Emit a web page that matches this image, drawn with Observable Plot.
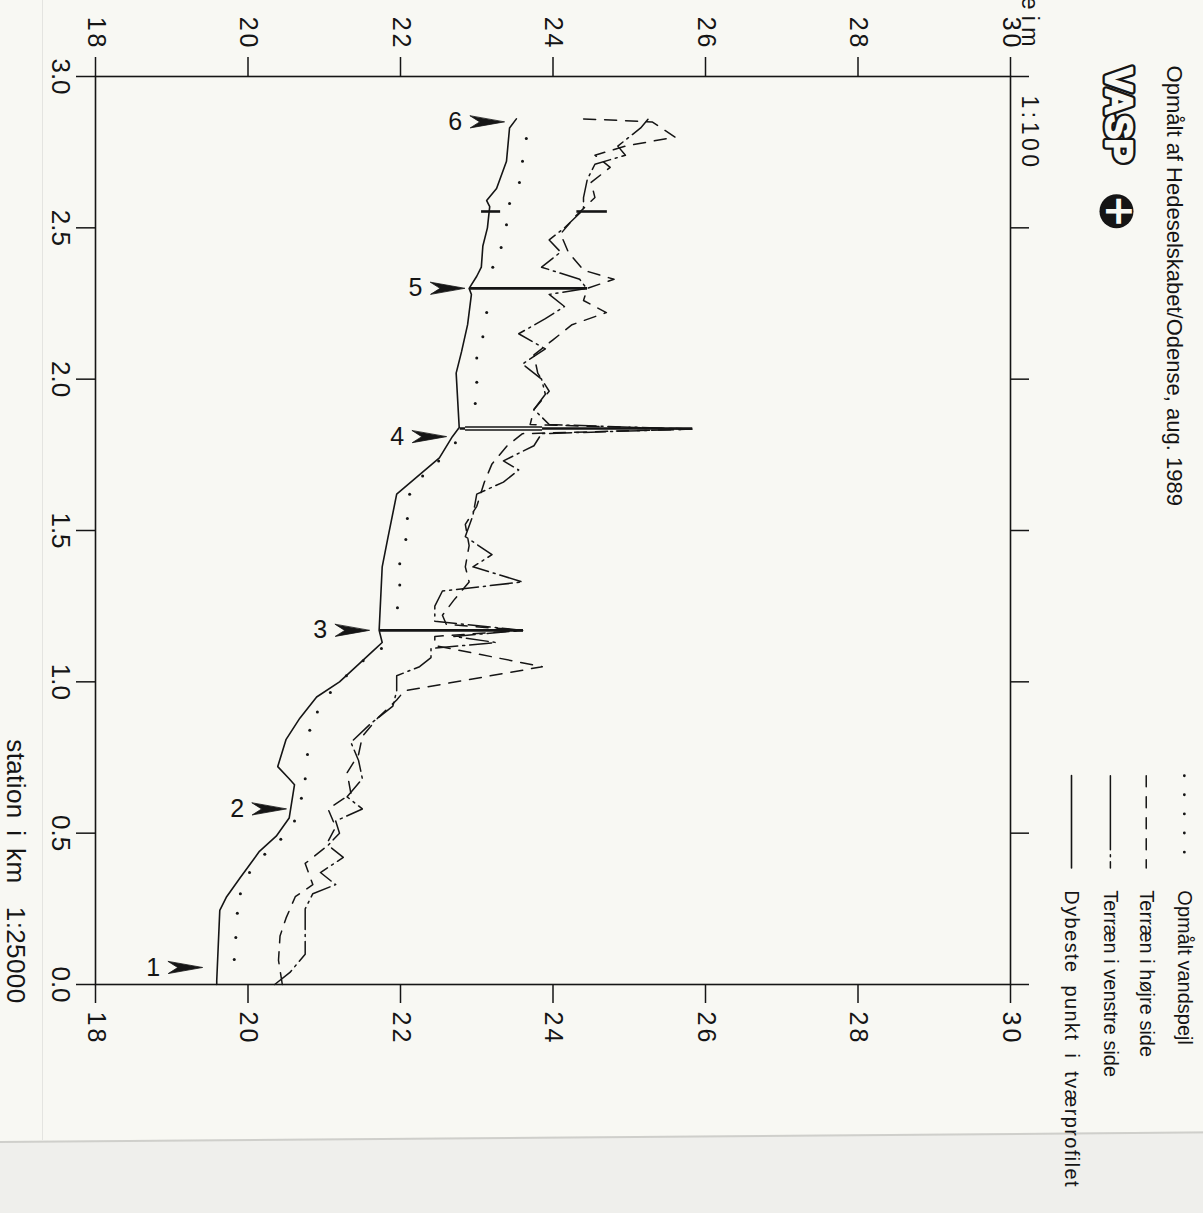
<!DOCTYPE html>
<html>
<head>
<meta charset="utf-8">
<script src="https://cdn.jsdelivr.net/npm/d3@7"></script>
<script src="https://cdn.jsdelivr.net/npm/@observablehq/plot@0.6"></script>
<style>
html, body { margin: 0; padding: 0; width: 1203px; height: 1213px; overflow: hidden; background: #f8f8f3; }
#left-edge { position: absolute; left: 42px; top: 0; width: 1px; height: 1140px; background: #e4e4e0; }
#paper-edge { position: absolute; left: -10px; top: 1141px; width: 1230px; height: 90px; background: #efefec; border-top: 2px solid #cfcfcb; transform: rotate(-0.45deg); transform-origin: 0 0; }
#wrap { position: absolute; left: 0; top: 0; width: 1213px; height: 1203px; transform-origin: 0 0; transform: translateX(1203px) rotate(90deg); }
#wrap svg { overflow: visible; }
</style>
</head>
<body>
<div id="left-edge"></div>
<div id="paper-edge"></div>
<div id="wrap"></div>
<script>
// ---------- data (station in km, kote in m) ----------
const xTicks = [0, 0.5, 1.0, 1.5, 2.0, 2.5, 3.0];
const yTicks = [18, 20, 22, 24, 26, 28, 30];

// Dybeste punkt i tværprofilet (solid)
const bundKm   = [0.00, 0.013, 0.245, 0.29, 0.35, 0.44, 0.49, 0.55, 0.66, 0.68, 0.72, 0.81, 0.88, 0.95, 1.00, 1.06, 1.10, 1.13, 1.17, 1.38, 1.47, 1.62, 1.74, 1.81, 1.84, 2.02, 2.09, 2.18, 2.28, 2.30, 2.34, 2.37, 2.44, 2.50, 2.57, 2.59, 2.63, 2.72, 2.83, 2.86];
const bundKote = [19.59, 19.59, 19.63, 19.72, 19.89, 20.15, 20.37, 20.54, 20.61, 20.54, 20.39, 20.50, 20.68, 20.90, 21.20, 21.46, 21.63, 21.76, 21.72, 21.76, 21.83, 21.95, 22.51, 22.68, 22.77, 22.73, 22.80, 22.88, 22.93, 22.90, 23.00, 23.06, 23.08, 23.14, 23.17, 23.13, 23.26, 23.39, 23.43, 23.52];

// Opmålt vandspejl (dotted)
const vandKm   = [0.083, 0.155, 0.235, 0.30, 0.37, 0.43, 0.48, 0.54, 0.615, 0.68, 0.76, 0.84, 0.90, 0.965, 1.02, 1.07, 1.11, 1.245, 1.32, 1.39, 1.47, 1.54, 1.62, 1.68, 1.73, 1.79, 1.92, 1.99, 2.07, 2.14, 2.22, 2.37, 2.435, 2.51, 2.58, 2.65, 2.72, 2.795];
const vandKote = [19.82, 19.84, 19.86, 19.90, 20.02, 20.22, 20.43, 20.61, 20.70, 20.75, 20.78, 20.81, 20.91, 21.08, 21.29, 21.51, 21.75, 21.96, 21.99, 21.99, 22.07, 22.09, 22.12, 22.29, 22.50, 22.72, 22.98, 23.00, 23.00, 23.08, 23.13, 23.21, 23.32, 23.39, 23.43, 23.56, 23.60, 23.65];

// Terræn i højre side (dashed)
const hojreKm   = [0.00, 0.08, 0.16, 0.22, 0.29, 0.33, 0.40, 0.45, 0.52, 0.58, 0.63, 0.70, 0.76, 0.82, 0.88, 0.94, 0.97, 1.05, 1.12, 1.15, 1.17, 1.19, 1.22, 1.27, 1.33, 1.38, 1.45, 1.52, 1.58, 1.66, 1.72, 1.78, 1.82, 1.835, 1.85, 1.90, 1.96, 2.02, 2.08, 2.13, 2.18, 2.22, 2.26, 2.30, 2.33, 2.36, 2.42, 2.48, 2.54, 2.60, 2.65, 2.70, 2.74, 2.77, 2.80, 2.85, 2.86];
const hojreKote = [20.45, 20.40, 20.42, 20.50, 20.62, 20.85, 20.75, 21.00, 21.15, 21.05, 21.35, 21.30, 21.45, 21.50, 21.70, 21.95, 22.05, 23.86, 22.45, 22.45, 23.60, 22.60, 22.55, 22.70, 22.90, 22.85, 22.90, 22.85, 23.00, 23.10, 23.20, 23.40, 23.60, 25.82, 23.70, 23.75, 23.95, 23.80, 23.75, 24.00, 24.25, 24.70, 24.40, 24.45, 24.80, 24.40, 24.20, 24.10, 24.30, 24.55, 24.50, 24.75, 24.55, 24.95, 25.60, 25.30, 24.40];

// Terræn i venstre side (dash-dot)
const venstreKm   = [0.00, 0.04, 0.10, 0.17, 0.25, 0.30, 0.33, 0.37, 0.42, 0.46, 0.50, 0.54, 0.58, 0.62, 0.68, 0.74, 0.80, 0.86, 0.92, 0.97, 1.02, 1.05, 1.08, 1.11, 1.13, 1.15, 1.17, 1.20, 1.25, 1.30, 1.33, 1.38, 1.42, 1.48, 1.55, 1.62, 1.66, 1.70, 1.73, 1.78, 1.82, 1.835, 1.85, 1.90, 1.95, 2.00, 2.05, 2.10, 2.15, 2.20, 2.24, 2.28, 2.30, 2.33, 2.37, 2.42, 2.46, 2.50, 2.56, 2.60, 2.66, 2.71, 2.74, 2.77, 2.80, 2.83, 2.86];
const venstreKote = [20.35, 20.55, 20.75, 20.75, 20.75, 20.85, 21.15, 20.95, 21.25, 21.05, 21.20, 21.15, 21.50, 21.30, 21.50, 21.45, 21.35, 21.60, 21.90, 21.95, 21.95, 22.25, 22.40, 22.40, 23.25, 22.70, 23.60, 22.45, 22.45, 22.55, 23.60, 22.95, 23.20, 22.85, 22.95, 23.00, 23.35, 23.55, 23.35, 23.75, 23.85, 25.82, 23.95, 23.75, 23.90, 23.85, 23.60, 23.90, 23.55, 23.90, 24.15, 23.95, 24.44, 24.35, 23.85, 24.10, 23.95, 24.15, 24.40, 24.40, 24.45, 24.55, 24.95, 24.85, 25.00, 25.15, 25.25];

// Structures drawn across the profile
const structKm   = [1.17, 1.837, 2.30, 2.554, 2.554];
const structFrom = [21.72, 22.77, 22.90, 23.05, 24.30];
const structTo   = [23.60, 25.82, 24.44, 23.30, 24.70];
// open (double-lined) part of the structure at marker 4
const openKm   = [1.837];
const openFrom = [22.84];
const openTo   = [23.85];

// Numbered markers (station, kote of arrow tip)
const markLabel = ["1", "2", "3", "4", "5", "6"];
const markKm    = [0.056, 0.58, 1.17, 1.81, 2.30, 2.85];
const markKote  = [19.40, 20.50, 21.59, 22.60, 22.84, 23.36];

const legendLabels = ["Opmålt vandspejl", "Terræn i højre side", "Terræn i venstre side", "Dybeste punkt i tværprofilet"];
const titleText = "Opmålt af Hedeselskabet/Odense, aug. 1989";
const logoText = "VASP";
const yTitle = "kote i m";
const yScaleNote = "1:100";
const xTitle = "station i km  1:25000";

// ---------- layout (positions in scale units, outside the frame) ----------
const layout = {
  legendKote: [32.28, 31.78, 31.31, 30.80],
  legendKm1: 0.69, legendKm2: 0.385, legendTextKm: 0.311,
  titleKm: 3.036, titleKote: 32.14,
  logoKm: 3.03, logoKote: 31.40,
  emblemKm: 2.555, emblemKote: 31.39,
  yTitleKm: 3.099, yNoteKm: 2.937, yTitleKote: 30.25,
  xTitleKm: -0.063, xTitleKote: 16.95
};

const rows = (km, kote) => km.map((k, i) => ({km: k, kote: kote[i]}));
const bund = rows(bundKm, bundKote);
const vand = rows(vandKm, vandKote);
const hojre = rows(hojreKm, hojreKote);
const venstre = rows(venstreKm, venstreKote);
const structures = structKm.map((k, i) => ({km: k, from: structFrom[i], to: structTo[i]}));
const openParts = openKm.map((k, i) => ({km: k, from: openFrom[i], to: openTo[i]}));
const marks = markLabel.map((l, i) => ({label: l, km: markKm[i], kote: markKote[i]}));

const ink = "#151515";
const paper = "#f8f8f3";
const sty = {
  hojre:   {stroke: ink, strokeWidth: 1.5, strokeDasharray: "12 9"},
  venstre: {stroke: ink, strokeWidth: 1.5, strokeDasharray: "22 5 2 5"},
  bund:    {stroke: ink, strokeWidth: 1.6}
};
const legendSty = [
  {stroke: ink, strokeWidth: 2.8, strokeDasharray: "0.1 19", strokeLinecap: "round"},
  {stroke: ink, strokeWidth: 1.5, strokeDasharray: "11 10"},
  {stroke: ink, strokeWidth: 1.5, strokeDasharray: "74 5 2 5 40"},
  sty.bund
];
const legendRows = legendLabels.map((t, i) => ({text: t, kote: layout.legendKote[i]}));

// notched arrow head (pointing along the vector)
const dart = {
  draw(context, l, r) {
    context.moveTo(0, -l);
    context.lineTo(r, 0);
    context.lineTo(0, -l * 0.28);
    context.lineTo(-r, 0);
    context.closePath();
  }
};

const fam = "'Liberation Sans', Arial, sans-serif";

const legendMarks = legendRows.map((d, i) =>
  Plot.line([{km: layout.legendKm1, kote: d.kote}, {km: layout.legendKm2, kote: d.kote}], {x: "km", y: "kote", ...legendSty[i]})
);

const logoOpts = {x: [layout.logoKm], y: [layout.logoKote], text: (d) => d, textAnchor: "start", fontSize: 36, fontWeight: "bold", fontFamily: "'Liberation Sans', Arial, sans-serif", strokeLinejoin: "round"};

const chart = Plot.plot({
  width: 1213,
  height: 1203,
  marginLeft: 76,
  marginRight: 229,
  marginTop: 192,
  marginBottom: 96,
  x: {domain: [3, 0]},
  y: {domain: [18, 30]},
  style: {background: "transparent", fontFamily: fam, color: ink, overflow: "visible"},
  marks: [
    Plot.frame({stroke: ink, strokeWidth: 1.6}),
    Plot.axisX(xTicks, {anchor: "bottom", tickSize: 20, tickPadding: 5, tickFormat: d3.format(".1f"), fontSize: 26, label: null, stroke: ink, strokeWidth: 1.5}),
    Plot.axisX(xTicks, {anchor: "top", tickSize: 19, tickFormat: () => "", label: null, stroke: ink, strokeWidth: 1.5}),
    Plot.axisY(yTicks, {anchor: "left", tickSize: 19, tickPadding: 7, tickFormat: d3.format("d"), fontSize: 25, label: null, stroke: ink, strokeWidth: 1.5}),
    Plot.axisY(yTicks, {anchor: "right", tickSize: 18, tickPadding: 9, tickFormat: d3.format("d"), fontSize: 25, label: null, stroke: ink, strokeWidth: 1.5}),

    Plot.line(hojre, {x: "km", y: "kote", ...sty.hojre}),
    Plot.line(venstre, {x: "km", y: "kote", ...sty.venstre}),
    Plot.line(bund, {x: "km", y: "kote", ...sty.bund}),
    Plot.dot(vand, {x: "km", y: "kote", r: 1.5, fill: ink, stroke: null}),
    Plot.ruleX(structures, {x: "km", y1: "from", y2: "to", stroke: ink, strokeWidth: 2.6}),
    Plot.ruleX(openParts, {x: "km", y1: "from", y2: "to", stroke: ink, strokeWidth: 4.4}),
    Plot.ruleX(openParts, {x: "km", y1: "from", y2: "to", stroke: paper, strokeWidth: 1.6}),

    Plot.vector(marks, {x: "km", y: "kote", length: 34, r: 6, anchor: "end", shape: dart, fill: ink, stroke: ink, strokeWidth: 0.8}),
    Plot.text(marks, {x: "km", y: "kote", text: "label", dy: 49, rotate: -90, fontSize: 25, fill: ink}),

    // legend
    ...legendMarks,
    Plot.text(legendRows, {x: () => layout.legendTextKm, y: "kote", text: "text", textAnchor: "start", fontSize: 20, fill: ink}),

    // titles and notes
    Plot.text([titleText], {x: [layout.titleKm], y: [layout.titleKote], text: (d) => d, textAnchor: "start", fontSize: 22, fill: ink}),
    Plot.text([logoText], {...logoOpts, fill: ink, stroke: ink, strokeWidth: 7}),
    Plot.text([logoText], {...logoOpts, fill: paper, stroke: paper, strokeWidth: 2.2, paintOrder: "stroke"}),
    Plot.dot([0], {x: [layout.emblemKm], y: [layout.emblemKote], r: 17, fill: ink, stroke: null}),
    Plot.text(["+"], {x: [layout.emblemKm], y: [layout.emblemKote], text: (d) => d, fontSize: 40, fontWeight: "bold", fill: paper, fontFamily: "'DejaVu Sans', sans-serif", dy: -2}),
    Plot.text([yTitle], {x: [layout.yTitleKm], y: [layout.yTitleKote], text: (d) => d, textAnchor: "end", fontSize: 23, fill: ink}),
    Plot.text([yScaleNote], {x: [layout.yNoteKm], y: [layout.yTitleKote], text: (d) => d, textAnchor: "start", fontSize: 23, fill: ink}),
    Plot.text([xTitle], {x: [layout.xTitleKm], y: [layout.xTitleKote], text: (d) => d, textAnchor: "end", fontSize: 26, fill: ink})
  ]
});

// typographic spacing of the scanned lettering
const spacing = new Map([
  [legendLabels[3], {ls: "1.4px", ws: "5px"}],
  [yScaleNote, {ls: "3.5px", ws: "0px"}],
  [xTitle, {ls: "0.4px", ws: "4px"}]
]);
const yLabelSet = new Set(yTicks.map(String));
d3.select(chart).selectAll("text").each(function () {
  const t = this.textContent;
  if (spacing.has(t)) {
    const s = spacing.get(t);
    this.setAttribute("letter-spacing", s.ls);
    this.setAttribute("word-spacing", s.ws);
    this.style.letterSpacing = s.ls;
    this.style.wordSpacing = s.ws;
  } else if (yLabelSet.has(t)) {
    this.setAttribute("letter-spacing", "3px");
    this.style.letterSpacing = "3px";
  }
});

document.getElementById("wrap").appendChild(chart);
</script>
</body>
</html>
